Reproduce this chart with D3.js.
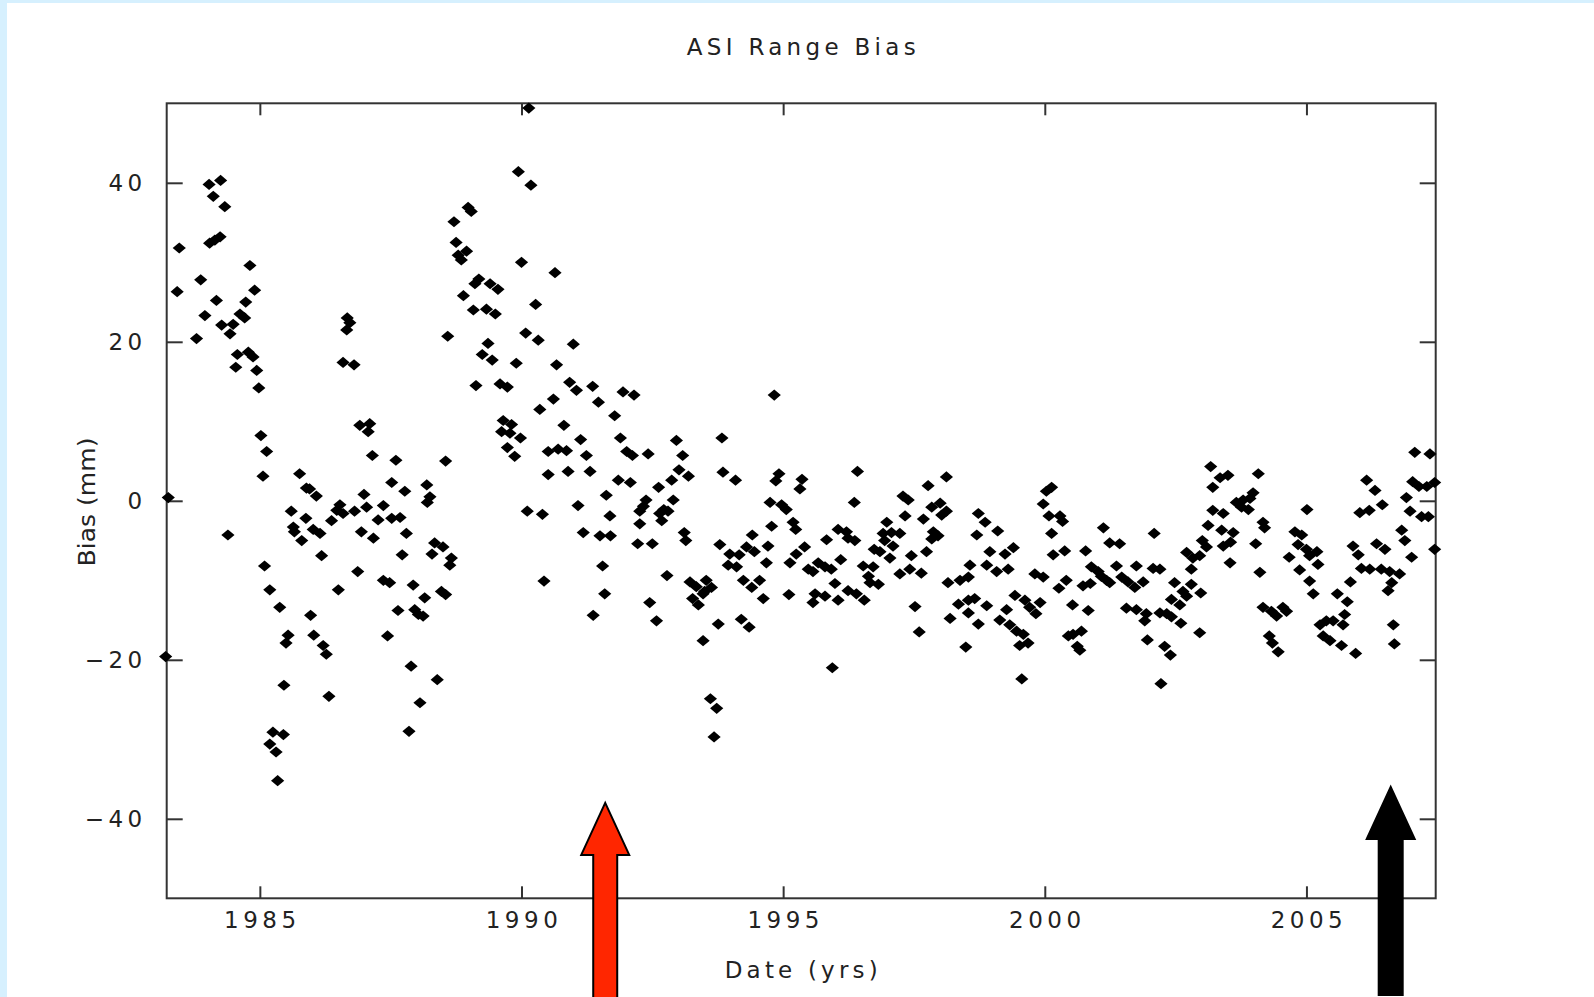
<!DOCTYPE html>
<html>
<head>
<meta charset="utf-8">
<script src="https://cdn.jsdelivr.net/npm/d3@7"></script>
<style>
  html, body { margin: 0; padding: 0; background: #fff; }
  svg { display: block; }
  text { font-family: "DejaVu Sans", "Liberation Sans", sans-serif; fill: #222; }
</style>
</head>
<body>
<svg id="chart" width="1594" height="997"></svg>
<script>
// ---- Data ----
const title = "ASI Range Bias";
const xLabel = "Date (yrs)";
const yLabel = "Bias (mm)";
const xTicks = [1985, 1990, 1995, 2000, 2005];
const yTicks = [-40, -20, 0, 20, 40];
const xDomain = [1983.22, 2007.47];
const yDomain = [-50, 50];

const dates = [
  1984.03,1984.25,1984.11,1984.33,1983.46,1984.04,1984.14,1984.24,1984.81,1983.87,1983.42,1984.90,1984.17,1984.73,1983.95,1984.62,1984.71,1984.27,1984.49,1984.43,
  1983.79,1984.57,1984.78,1984.87,1984.54,1984.94,1984.98,1986.67,1986.72,1986.66,1986.59,1986.80,1986.91,1987.10,1987.07,1987.15,1985.02,1985.13,1985.06,1985.76,
  1985.89,1985.95,1986.08,1983.25,1986.99,1987.04,1986.53,1986.47,1986.59,1986.37,1986.81,1985.60,1985.88,1985.64,1985.66,1986.02,1986.15,1985.80,1984.39,1986.94,
  1987.17,1986.18,1986.87,1985.09,1985.19,1986.50,1985.38,1985.97,1985.54,1985.50,1986.03,1986.21,1986.27,1983.20,1985.46,1986.32,1985.25,1985.45,1985.19,1985.31,
  1985.34,
  1990.14,1989.94,1990.18,1988.98,1989.04,1988.71,1988.75,1988.79,1988.95,1988.85,1990.00,1990.64,1989.185,1989.40,1989.55,1989.11,1988.89,1989.08,1989.33,1989.50,
  1990.27,1988.59,1990.08,1990.32,1990.99,1989.36,1989.25,1989.44,1989.90,1990.67,1989.13,1989.59,1989.73,1990.92,1991.05,1991.36,1990.61,1990.35,1990.81,1989.65,
  1989.81,1989.62,1989.78,1989.98,1989.73,1989.87,1991.13,1990.51,1990.70,1990.86,1991.24,1991.31,1990.51,1990.89,1987.60,1988.55,1987.52,1987.77,1988.19,1988.25,
  1988.20,1987.36,1987.26,1987.52,1987.68,1987.80,1987.72,1988.34,1988.50,1988.29,1988.66,1988.63,1987.36,1987.48,1987.93,1988.15,1988.47,1988.55,1987.64,1987.96,
  1988.03,1988.12,1987.44,1987.89,1988.39,1988.06,1987.85,1990.11,1990.40,1991.08,1991.18,1990.43,1991.37,
  1991.47,1991.94,1992.15,1991.78,1994.83,1991.89,1992.01,1992.12,1992.42,1992.96,1993.08,1993.83,1993.01,1993.19,1992.87,1991.85,1992.08,1992.62,1991.62,1993.85,
  1994.09,1994.92,1994.86,1995.36,1995.32,1992.38,1992.33,1992.26,1992.90,1992.72,1992.64,1992.80,1992.68,1991.69,1992.26,1994.75,1994.97,1995.06,1994.78,1995.19,
  1995.24,1991.50,1991.70,1992.22,1992.50,1993.11,1993.14,1994.41,1993.79,1994.30,1994.45,1994.71,1993.98,1994.16,1995.41,1995.25,1993.95,1994.11,1994.68,1995.13,
  1995.48,1991.55,1992.78,1993.22,1993.34,1993.53,1993.50,1993.63,1993.27,1993.38,1993.47,1994.24,1994.40,1994.55,1994.62,1995.11,1991.59,1992.45,1992.58,1993.76,
  1994.20,1994.35,1993.47,1993.61,1993.73,1993.68,
  1996.42,1996.36,1997.29,1997.39,1997.77,1998.12,1997.84,1998.00,1998.12,1998.03,1997.33,1997.68,1996.98,1998.73,1998.86,1999.10,1998.70,1997.87,1997.96,1997.84,
  1996.91,1997.07,1997.23,1996.94,1997.10,1996.05,1996.21,1996.37,1996.24,1995.83,1996.74,1996.85,1997.74,1998.95,1999.24,1999.40,1996.10,1997.04,1997.45,1995.67,
  1995.80,1995.92,1995.57,1996.53,1996.72,1998.57,1998.89,1999.08,1999.30,1997.23,1997.42,1997.64,1996.63,1996.66,1996.82,1995.99,1998.15,1998.38,1998.54,1995.61,
  1995.80,1996.05,1996.24,1996.40,1996.55,1995.57,1997.52,1998.35,1998.54,1998.66,1998.89,1999.43,1998.19,1998.54,1998.73,1999.14,1999.27,1999.33,1999.46,1999.52,
  1997.60,1998.49,1995.94,1999.56,
  2003.17,2003.35,2003.50,2003.21,2000.13,2000.03,1999.97,2000.08,2000.29,2000.34,2000.13,2003.21,2003.41,2003.12,2003.38,2003.60,2003.41,2003.55,2003.01,2003.09,
  2001.12,2002.09,2001.24,2001.43,2000.16,2000.38,2000.78,2002.71,2002.83,2002.96,2003.54,2000.89,2001.02,2001.18,2001.08,2001.24,2001.37,2001.75,2002.07,2002.20,
  2002.80,1999.81,1999.97,2000.41,2000.27,2000.73,2000.87,2001.47,2001.59,2001.72,2001.88,2002.48,2002.80,2002.64,2002.71,2002.58,2002.98,2002.42,1999.62,1999.71,
  1999.83,1999.91,2000.53,2000.83,2001.56,2001.75,2001.94,2001.91,2002.20,2002.33,2002.42,2002.60,2002.96,1999.59,1999.68,2000.45,2000.54,2000.70,2000.62,2000.67,
  2001.96,2002.29,2002.40,2002.22,
  2007.07,2007.36,2007.03,2007.15,2007.30,2007.45,2006.15,2006.31,2006.45,2006.91,2006.98,2007.20,2007.33,2007.45,2004.08,2003.98,2003.92,2003.79,2003.66,2003.76,
  2003.89,2004.17,2004.20,2005.01,2006.02,2006.20,2004.03,2004.78,2004.91,2004.84,2005.00,2005.06,2005.20,2004.67,2005.22,2004.87,2004.11,2005.06,2005.13,2005.89,
  2005.99,2006.34,2006.50,2006.82,2006.88,2007.01,2006.05,2006.21,2006.43,2006.59,2006.78,2006.63,2006.56,2005.84,2005.59,2005.78,2005.73,2004.17,2004.33,2004.43,
  2004.55,2004.62,2004.29,2004.35,2004.46,2005.26,2005.38,2005.51,2005.70,2005.32,2005.45,2005.67,2005.94,2006.66,2006.68
];

const bias = [
  39.8,40.3,38.3,37.0,31.8,32.4,32.8,33.2,29.6,27.8,26.3,26.5,25.2,25.0,23.3,23.5,23.0,22.1,22.2,21.0,
  20.4,18.4,18.7,18.1,16.8,16.4,14.2,23.0,22.4,21.5,17.4,17.1,9.5,9.7,8.7,5.7,8.2,6.2,3.1,3.4,
  1.6,1.5,0.6,0.4,0.8,-0.8,-0.5,-1.2,-1.6,-2.5,-1.3,-1.3,-2.2,-3.3,-3.9,-3.6,-4.1,-5.0,-4.3,-3.9,
  -4.7,-6.9,-8.9,-8.2,-11.2,-11.2,-13.4,-14.4,-16.9,-17.9,-16.9,-18.2,-19.3,-19.6,-23.2,-24.6,-29.1,-29.4,-30.6,-31.6,
  -35.2,
  49.4,41.4,39.7,36.9,36.4,35.1,32.5,30.9,31.4,30.3,30.0,28.7,27.9,27.3,26.6,27.3,25.8,24.0,24.1,23.5,
  24.7,20.7,21.1,20.2,19.7,19.8,18.4,17.7,17.3,17.1,14.5,14.7,14.3,14.9,13.9,14.4,12.8,11.5,9.5,10.1,
  9.6,8.7,8.5,7.9,6.7,5.6,7.7,6.2,6.5,6.3,5.7,3.7,3.3,3.7,5.1,5.0,2.3,1.2,2.0,0.5,
  -0.2,-0.6,-2.4,-2.2,-2.1,-4.1,-6.8,-5.3,-5.8,-6.7,-7.2,-8.1,-10.0,-10.3,-10.6,-12.2,-11.4,-11.8,-13.8,-13.7,
  -14.3,-14.5,-17.0,-20.8,-22.5,-25.4,-29.0,-1.3,-1.7,-0.6,-4.0,-10.1,-14.4,
  12.4,13.7,13.3,10.7,13.3,7.9,6.2,5.7,5.9,7.6,5.7,7.9,3.9,3.1,2.6,2.6,2.3,1.7,0.7,3.6,
  2.6,3.4,2.5,2.7,1.5,0.1,-0.7,-1.3,0.1,-1.1,-1.6,-1.3,-2.5,-1.9,-2.9,-0.2,-0.5,-1.1,-3.2,-2.7,
  -3.6,-4.4,-4.4,-5.4,-5.4,-4.0,-5.0,-4.3,-5.5,-5.8,-6.4,-5.7,-6.7,-6.8,-5.8,-6.7,-8.1,-8.3,-7.8,-7.8,
  -8.6,-8.2,-9.4,-10.2,-10.8,-10.0,-11.4,-10.9,-12.3,-13.1,-11.7,-10.0,-10.9,-10.0,-12.3,-11.8,-11.7,-12.8,-15.1,-15.5,
  -14.9,-15.9,-17.6,-24.9,-26.1,-29.7,
  3.7,-0.2,0.6,0.1,1.9,3.0,-0.8,-0.3,-1.3,-1.8,-1.9,-2.3,-2.7,-1.6,-2.7,-3.8,-4.3,-3.9,-4.4,-4.8,
  -4.1,-4.0,-4.1,-5.0,-5.7,-3.6,-3.9,-5.0,-4.7,-4.9,-6.1,-6.4,-6.4,-6.4,-6.7,-5.9,-7.4,-7.2,-6.9,-7.8,
  -8.3,-8.6,-8.9,-8.2,-8.3,-8.1,-8.1,-8.9,-8.6,-9.2,-8.6,-9.1,-9.5,-10.3,-10.5,-10.4,-10.3,-10.0,-9.6,-11.7,
  -12.0,-12.5,-11.3,-11.7,-12.5,-12.8,-13.3,-13.0,-12.5,-12.3,-13.2,-11.9,-14.8,-14.1,-15.5,-15.0,-13.7,-15.6,-16.4,-18.2,
  -16.5,-18.4,-21.0,-22.4,
  4.3,2.9,3.2,1.7,1.7,1.2,-0.4,-1.9,-1.9,-2.6,-4.1,-1.2,-1.6,-3.1,-3.7,-4.0,-5.7,-5.2,-5.0,-5.8,
  -3.4,-4.1,-5.3,-5.4,-6.8,-6.3,-6.3,-6.5,-7.2,-6.9,-7.8,-8.3,-8.9,-10.0,-9.5,-10.3,-8.2,-8.2,-8.5,-8.6,
  -8.6,-9.2,-9.6,-10.0,-11.0,-10.7,-10.4,-9.6,-10.2,-10.9,-10.2,-10.3,-10.5,-11.4,-12.0,-13.1,-11.6,-12.4,-12.5,-13.4,
  -14.2,-12.8,-13.1,-13.8,-13.5,-13.7,-14.2,-15.1,-14.1,-14.2,-14.6,-15.4,-16.6,-16.8,-17.9,-17.0,-16.8,-16.4,-18.3,-18.8,
  -17.5,-18.3,-19.4,-23.0,
  6.1,5.9,2.4,1.8,1.8,2.3,2.6,1.3,-0.5,0.4,-1.3,-2.0,-2.0,-6.1,3.4,1.0,0.3,0.1,-0.2,-0.8,
  -1.1,-2.7,-3.4,-1.1,-1.5,-1.2,-5.4,-3.9,-4.3,-5.5,-6.1,-6.9,-6.4,-7.1,-8.0,-8.7,-9.0,-10.1,-11.7,-5.7,
  -6.8,-5.4,-6.1,-3.7,-5.0,-7.1,-8.5,-8.6,-8.6,-8.9,-9.2,-10.3,-11.3,-10.2,-11.7,-12.7,-14.3,-13.4,-13.9,-14.5,
  -13.4,-13.9,-17.0,-17.9,-19.0,-15.6,-15.1,-15.1,-15.6,-17.0,-17.6,-18.2,-19.2,-15.6,-18.0
];

// Annotation arrows (date position, value of the arrow tip)
const arrowDates = [1991.6, 2006.61];
const arrowTips = [-38.0, -36.0];
const arrowColors = ["#ff2600", "#000000"];

// ---- Drawing ----
const W = 1594, H = 997;
const svg = d3.select("#chart");
const plot = { left: 166.7, right: 1435.7, top: 103.3, bottom: 898.3 };

svg.append("rect").attr("width", W).attr("height", H).attr("fill", "#ffffff");
svg.append("rect").attr("x", 0).attr("y", 0).attr("width", W).attr("height", 3).attr("fill", "#d6f0fe");
svg.append("rect").attr("x", 0).attr("y", 0).attr("width", 7).attr("height", H).attr("fill", "#d6f0fe");

const x = d3.scaleLinear().domain(xDomain).range([plot.left, plot.right]);
const y = d3.scaleLinear().domain(yDomain).range([plot.bottom, plot.top]);

const axisColor = "#333";
function styleAxis(g) {
  g.select(".domain").remove();
  g.selectAll(".tick line").attr("stroke", axisColor).attr("stroke-width", 2);
  g.selectAll(".tick text")
    .attr("font-size", 23)
    .attr("letter-spacing", "4.5px")
    .attr("fill", "#222");
}

svg.append("g")
  .attr("transform", `translate(0,${plot.bottom})`)
  .call(d3.axisBottom(x).tickValues(xTicks).tickFormat(d3.format("d"))
    .tickSizeInner(-12).tickSizeOuter(0).tickPadding(13))
  .call(styleAxis)
  .call(g => g.selectAll(".tick text").attr("dx", "2px"));

svg.append("g")
  .attr("transform", `translate(0,${plot.top})`)
  .call(d3.axisTop(x).tickValues(xTicks).tickFormat("")
    .tickSizeInner(-12).tickSizeOuter(0))
  .call(styleAxis);

svg.append("g")
  .attr("transform", `translate(${plot.left},0)`)
  .call(d3.axisLeft(y).tickValues(yTicks)
    .tickSizeInner(-16).tickSizeOuter(0).tickPadding(20))
  .call(styleAxis);

svg.append("g")
  .attr("transform", `translate(${plot.right},0)`)
  .call(d3.axisRight(y).tickValues(yTicks).tickFormat("")
    .tickSizeInner(-16).tickSizeOuter(0))
  .call(styleAxis);

svg.append("rect")
  .attr("x", x(xDomain[0])).attr("y", y(yDomain[1]))
  .attr("width", x(xDomain[1]) - x(xDomain[0]))
  .attr("height", y(yDomain[0]) - y(yDomain[1]))
  .attr("fill", "none").attr("stroke", axisColor).attr("stroke-width", 2);

// Points
const pts = dates.map((d, i) => ({ date: d, value: bias[i] }));
svg.append("g").selectAll("path")
  .data(pts)
  .join("path")
  .attr("transform", d => `translate(${x(d.date)},${y(d.value)})`)
  .attr("d", "M0,-5.6L6.6,0L0,5.6L-6.6,0Z")
  .attr("fill", "#000");

// Titles
const cx = (plot.left + plot.right) / 2;
svg.append("text").text(title)
  .attr("x", cx).attr("y", 54.5).attr("text-anchor", "middle")
  .attr("font-size", 23).attr("textLength", 229).attr("lengthAdjust", "spacing");
svg.append("text").text(xLabel)
  .attr("x", cx).attr("y", 978).attr("text-anchor", "middle")
  .attr("font-size", 23).attr("textLength", 153).attr("lengthAdjust", "spacing");
svg.append("text").text(yLabel)
  .attr("transform", `translate(95,502) rotate(-90)`)
  .attr("text-anchor", "middle")
  .attr("font-size", 23).attr("textLength", 129).attr("lengthAdjust", "spacingAndGlyphs");

// Arrows
const arrows = arrowDates.map((d, i) => ({ date: d, tip: arrowTips[i], color: arrowColors[i] }));
const headH = 52, headW = 24, shaftW = 12;
svg.append("g").selectAll("path")
  .data(arrows)
  .join("path")
  .attr("d", d => {
    const ax = x(d.date), ay = y(d.tip);
    const bottom = d.color === "#000000" ? 995 : H + 5;
    return `M${ax},${ay}L${ax + headW},${ay + headH}L${ax + shaftW},${ay + headH}L${ax + shaftW},${bottom}` +
           `L${ax - shaftW},${bottom}L${ax - shaftW},${ay + headH}L${ax - headW},${ay + headH}Z`;
  })
  .attr("fill", d => d.color)
  .attr("stroke", "#000").attr("stroke-width", 2).attr("stroke-linejoin", "miter");
</script>
</body>
</html>
